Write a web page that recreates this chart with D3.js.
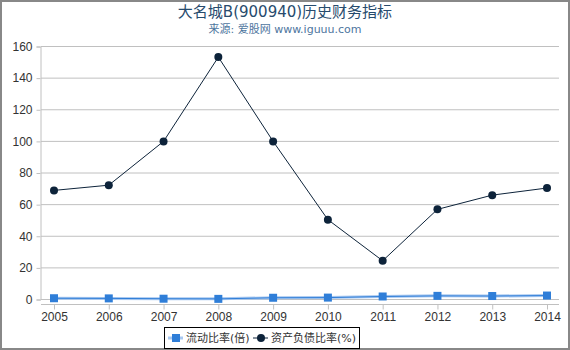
<!DOCTYPE html>
<html>
<head>
<meta charset="utf-8">
<script src="https://cdnjs.cloudflare.com/ajax/libs/d3/7.8.5/d3.min.js"></script>
<style>
  body { margin: 0; }
  svg { display: block; font-family: "DejaVu Sans", "Noto Sans CJK SC", sans-serif; }
</style>
</head>
<body>
<script>
let years = ['2005', '2006', '2007', '2008', '2009', '2010', '2011', '2012', '2013', '2014'];
let currentRatio = [0.8, 0.7, 0.5, 0.4, 1.1, 1.2, 1.9, 2.3, 2.2, 2.5];
let debtRatio = [69, 72.3, 100, 153.3, 100, 50.5, 24.5, 57, 66, 70.5];
let yTicks = [0, 20, 40, 60, 80, 100, 120, 140, 160];

let W = 570, H = 350;

let svg = d3.select('body').append('svg')
  .attr('width', W)
  .attr('height', H)

svg.append('rect')
  .attr('x', 1).attr('y', 1)
  .attr('width', W - 2).attr('height', H - 2)
  .attr('fill', '#fff')
  .attr('stroke', '#888')
  .attr('stroke-width', 2)

svg.append('text')
  .attr('x', W / 2).attr('y', 17)
  .attr('text-anchor', 'middle')
  .attr('font-size', 15)
  .attr('fill', '#274b6d')
  .text('大名城B(900940)历史财务指标')

svg.append('text')
  .attr('x', W / 2).attr('y', 33)
  .attr('text-anchor', 'middle')
  .attr('font-size', 11)
  .attr('fill', '#4d759e')
  .text('来源: 爱股网 www.iguuu.com')

let x = d3.scalePoint().domain(years).range([54, 547])
let y = d3.scaleLinear().domain([0, 160]).range([299.5, 46.5])

let g = svg.append('g')

// gridlines
g.selectAll('.grid')
  .data(yTicks)
  .enter().append('line')
  .attr('x1', 41).attr('x2', 559)
  .attr('y1', d => y(d)).attr('y2', d => y(d))
  .attr('stroke', '#c0c0c0')
  .attr('stroke-width', 1)

// y axis
let yAxis = g.append('g')
  .attr('transform', 'translate(40.5,0)')
  .call(d3.axisLeft(y).tickValues(yTicks).tickSize(4).tickPadding(4))
yAxis.select('.domain').attr('stroke', '#c0c0c0')
yAxis.selectAll('.tick line').attr('stroke', '#c0c0c0')
yAxis.selectAll('text').attr('font-size', 12).attr('fill', '#333').attr('font-family', 'inherit')

// x axis
let xAxis = g.append('g')
  .attr('transform', 'translate(0,304.5)')
  .call(d3.axisBottom(x).tickSize(5).tickPadding(3))
xAxis.select('.domain').attr('d', 'M41,0H559').attr('stroke', '#c0c0c0')
xAxis.selectAll('.tick line').attr('stroke', '#c0c0c0')
xAxis.selectAll('text').attr('font-size', 12).attr('fill', '#333').attr('font-family', 'inherit')

// series
let line = d3.line()
  .x((d, i) => x(years[i]))
  .y(d => y(d))

g.append('path')
  .attr('d', line(currentRatio))
  .attr('fill', 'none')
  .attr('stroke', '#a8c8f0')
  .attr('stroke-width', 3)
g.append('path')
  .attr('d', line(currentRatio))
  .attr('fill', 'none')
  .attr('stroke', '#2f7ed8')
  .attr('stroke-width', 1)

g.selectAll('.sq')
  .data(currentRatio)
  .enter().append('rect')
  .attr('x', (d, i) => x(years[i]) - 4)
  .attr('y', d => y(d) - 4)
  .attr('width', 8).attr('height', 8)
  .attr('fill', '#2f7ed8')

g.append('path')
  .attr('d', line(debtRatio))
  .attr('fill', 'none')
  .attr('stroke', '#0d233a')
  .attr('stroke-width', 1)

g.selectAll('.dot')
  .data(debtRatio)
  .enter().append('circle')
  .attr('cx', (d, i) => x(years[i]))
  .attr('cy', d => y(d))
  .attr('r', 4)
  .attr('fill', '#0d233a')

// legend
let lg = svg.append('g')
lg.append('rect')
  .attr('x', 164.5).attr('y', 327.5)
  .attr('width', 195).attr('height', 21)
  .attr('fill', '#fff')
  .attr('stroke', '#000')

let legendItems = [
  {name: '流动比率(倍)', color: '#2f7ed8', sym: 'square', x: 168},
  {name: '资产负债比率(%)', color: '#0d233a', sym: 'circle', x: 253}
]
legendItems.forEach(it => {
  lg.append('line')
    .attr('x1', it.x).attr('x2', it.x + 15)
    .attr('y1', 338).attr('y2', 338)
    .attr('stroke', it.sym === 'square' ? '#a8c8f0' : '#0d233a')
    .attr('stroke-width', it.sym === 'square' ? 3 : 1)
  if (it.sym === 'square') {
    lg.append('rect').attr('x', it.x + 4).attr('y', 334)
      .attr('width', 8).attr('height', 8).attr('fill', it.color)
  } else {
    lg.append('circle').attr('cx', it.x + 8).attr('cy', 338)
      .attr('r', 4).attr('fill', it.color)
  }
  lg.append('text')
    .attr('x', it.x + 18).attr('y', 342)
    .attr('font-size', 11)
    .attr('fill', '#333')
    .text(it.name)
})
</script>
</body>
</html>
